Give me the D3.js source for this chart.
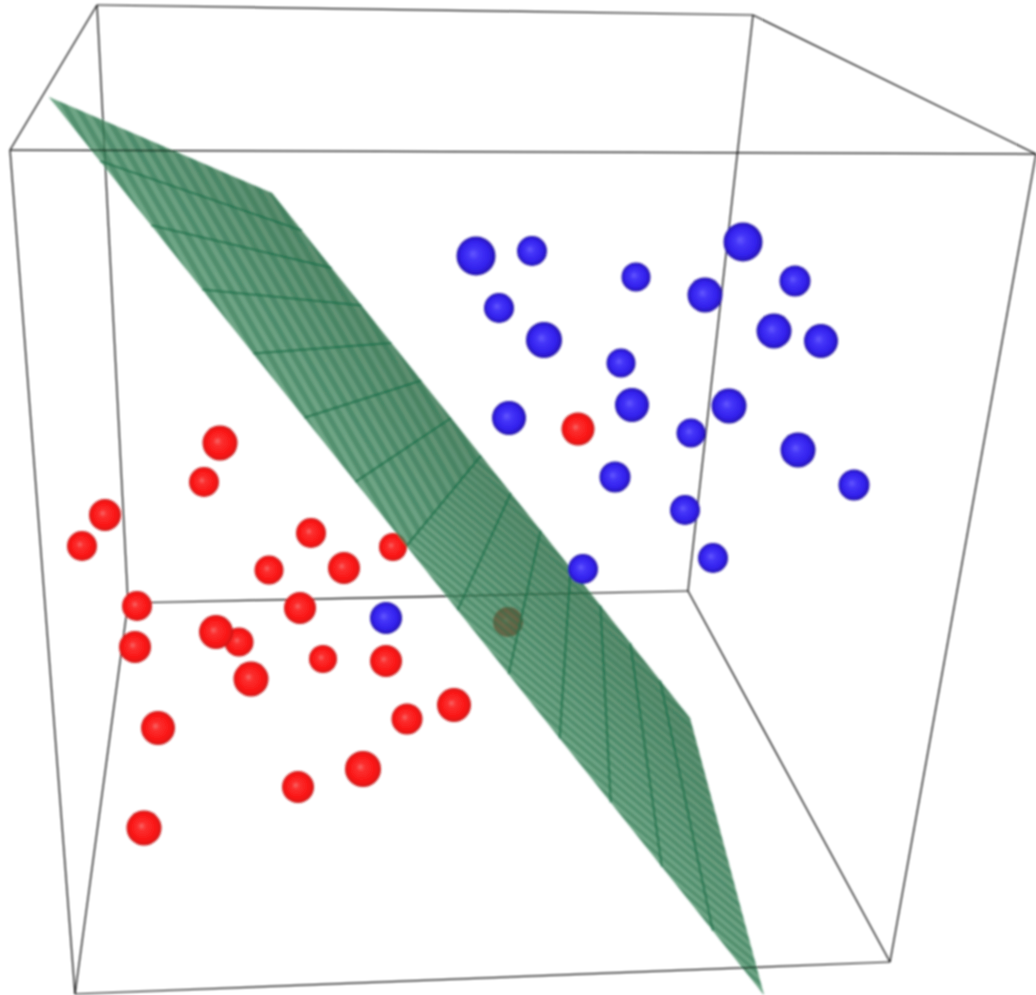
<!DOCTYPE html>
<html>
<head>
<meta charset="utf-8">
<script src="https://cdn.jsdelivr.net/npm/d3@7"></script>
<style>
  html, body { margin: 0; padding: 0; background: #fff; }
  svg { display: block; }
</style>
</head>
<body>
<div class="chart"></div>
<script>
// values, in picture units
var blueX = [476, 532, 636, 743, 795, 705, 499, 544, 774, 821, 621, 632, 729, 509, 691, 798, 615, 854, 685, 713, 583, 386];
var blueY = [256, 251, 277, 242, 281, 295, 308, 340, 331, 341, 363, 405, 406, 418, 433, 450, 477, 485, 510, 558, 569, 618];
var blueR = [19.5, 15, 14.5, 19.5, 15.5, 17.5, 15, 18, 17.5, 17, 14.5, 17, 17.5, 17, 14.5, 17.5, 15.5, 15.5, 15, 15, 15, 16];

var redX = [220, 204, 105, 82, 311, 344, 269, 137, 300, 135, 239, 216, 323, 386, 251, 158, 407, 454, 363, 298, 144, 578];
var redY = [443, 482, 515, 546, 533, 568, 570, 606, 608, 647, 642, 632, 659, 661, 679, 728, 719, 705, 769, 787, 828, 429];
var redR = [17.5, 15, 16, 15, 15, 16, 14.5, 15, 16, 16, 14.5, 17, 14, 16, 17.5, 17, 15.5, 17, 18, 16, 17.5, 16.5];

// the two red points sitting behind the plane
var hiddenX = [393, 508];
var hiddenY = [547, 622];
var hiddenR = [14, 15];

// box corners: back top, front top, back bottom, front bottom
var cornerNames = ["btl", "btr", "ftl", "ftr", "bbl", "bbr", "fbl", "fbr"];
var cornerX = [97, 753, 10, 1036, 128, 688, 75, 890];
var cornerY = [5, 15, 150, 154, 603, 591, 994, 962];
var backEdges = [["btl", "btr"], ["btl", "ftl"], ["btr", "ftr"], ["btl", "bbl"], ["btr", "bbr"],
  ["bbl", "bbr"], ["bbl", "fbl"], ["bbr", "fbr"], ["ftl", "fbl"], ["ftr", "fbr"]];
var frontEdges = [["ftl", "ftr"], ["fbl", "fbr"]];

// plane corners, long lower edge first then the upper edge
var planeX = [49, 764, 690, 272];
var planeY = [97, 995, 718, 193];
var meshCount = 14;

// fine stripes on the plane: mesh row where they start and stop, slope, spacing
var stripeFrom = [0, 7];
var stripeTo = [7, 14];
var stripeAngle = [60, 40];
var stripeGap = [10.5, 6.6];

var width = 1036,
  height = 995;

var x = d3.scaleLinear().domain([0, 1036]).range([0, width]);
var y = d3.scaleLinear().domain([0, 995]).range([0, height]);
var r = d3.scaleLinear().domain([0, 1036]).range([0, width]);

var svg = d3.select(".chart").append("svg")
  .attr("width", width)
  .attr("height", height);

var defs = svg.append("defs");

defs.append("filter")
  .attr("id", "soft")
  .attr("filterUnits", "userSpaceOnUse")
  .attr("x", -10).attr("y", -10)
  .attr("width", width + 20).attr("height", height + 20)
  .append("feGaussianBlur")
  .attr("stdDeviation", 1);

function ballGradient(id, stops) {
  var g = defs.append("radialGradient")
    .attr("id", id)
    .attr("cx", "50%").attr("cy", "50%").attr("r", "50%")
    .attr("fx", "42%").attr("fy", "44%");
  stops.forEach(function (s) {
    g.append("stop").attr("offset", s[0]).attr("stop-color", s[1]);
  });
}
ballGradient("redBall", [["0%", "#f86a6a"], ["22%", "#fb3030"], ["70%", "#fb1616"], ["90%", "#e81414"], ["100%", "#b81818"]]);
ballGradient("blueBall", [["0%", "#6458ff"], ["30%", "#4434f8"], ["70%", "#3322ee"], ["90%", "#2a18cc"], ["100%", "#1f1290"]]);

// shade runs straight across the band, lower edge to upper edge
var bandX = planeX[1] - planeX[0],
  bandY = planeY[1] - planeY[0],
  bandLen = Math.sqrt(bandX * bandX + bandY * bandY),
  normX = bandY / bandLen,
  normY = -bandX / bandLen,
  bandWidth = (planeX[3] - planeX[0]) * normX + (planeY[3] - planeY[0]) * normY;

var planeShade = defs.append("linearGradient")
  .attr("id", "planeShade")
  .attr("gradientUnits", "userSpaceOnUse")
  .attr("x1", x(planeX[0])).attr("y1", y(planeY[0]))
  .attr("x2", x(planeX[0] + normX * bandWidth)).attr("y2", y(planeY[0] + normY * bandWidth));
planeShade.append("stop").attr("offset", "0%").attr("stop-color", "#418a60");
planeShade.append("stop").attr("offset", "100%").attr("stop-color", "#24683f");

var root = svg.append("g").attr("filter", "url(#soft)");

function corner(name) {
  var i = cornerNames.indexOf(name);
  return [x(cornerX[i]), y(cornerY[i])];
}

function drawEdges(edges) {
  root.append("g").selectAll("line")
    .data(edges)
    .enter().append("line")
    .attr("x1", function (d) { return corner(d[0])[0]; })
    .attr("y1", function (d) { return corner(d[0])[1]; })
    .attr("x2", function (d) { return corner(d[1])[0]; })
    .attr("y2", function (d) { return corner(d[1])[1]; })
    .attr("stroke", "#000")
    .attr("stroke-width", 1.25);
}

function drawBalls(xs, ys, rs, fill) {
  root.append("g").selectAll("circle")
    .data(xs)
    .enter().append("circle")
    .attr("cx", function (d) { return x(d); })
    .attr("cy", function (d, i) { return y(ys[i]); })
    .attr("r", function (d, i) { return r(rs[i]); })
    .attr("fill", fill);
}

// position on the plane: t runs along the long edge, s across it
function planePoint(t, s) {
  var lx = planeX[0] + (planeX[1] - planeX[0]) * t,
    ly = planeY[0] + (planeY[1] - planeY[0]) * t,
    ux = planeX[3] + (planeX[2] - planeX[3]) * t,
    uy = planeY[3] + (planeY[2] - planeY[3]) * t;
  return [x(lx + (ux - lx) * s), y(ly + (uy - ly) * s)];
}

function drawPlane() {
  var plane = root.append("g");
  var outline = d3.range(4).map(function (i) { return [x(planeX[i]), y(planeY[i])]; });

  plane.append("polygon")
    .attr("points", outline.join(" "))
    .attr("fill", "url(#planeShade)")
    .attr("fill-opacity", 0.75);

  stripeAngle.forEach(function (angle, n) {
    var a = planePoint(stripeFrom[n] / meshCount, 0),
      b = planePoint(stripeTo[n] / meshCount, 0),
      c = planePoint(stripeTo[n] / meshCount, 1),
      d = planePoint(stripeFrom[n] / meshCount, 1);

    defs.append("clipPath")
      .attr("id", "stripeClip" + n)
      .append("polygon")
      .attr("points", [a, b, c, d].join(" "));

    var rad = angle * Math.PI / 180,
      dx = Math.cos(rad),
      dy = Math.sin(rad),
      offsets = d3.range(-1500, 1500, stripeGap[n]);

    plane.append("g")
      .attr("clip-path", "url(#stripeClip" + n + ")")
      .selectAll("line")
      .data(offsets)
      .enter().append("line")
      .attr("x1", function (o) { return 500 - dy * o - dx * 1500; })
      .attr("y1", function (o) { return 500 + dx * o - dy * 1500; })
      .attr("x2", function (o) { return 500 - dy * o + dx * 1500; })
      .attr("y2", function (o) { return 500 + dx * o + dy * 1500; })
      .attr("stroke", "#1f6a45")
      .attr("stroke-opacity", 0.36)
      .attr("stroke-width", stripeGap[n] * 0.5);
  });

  plane.append("g").selectAll("line")
    .data(d3.range(1, meshCount))
    .enter().append("line")
    .attr("x1", function (k) { return planePoint(k / meshCount, 0)[0]; })
    .attr("y1", function (k) { return planePoint(k / meshCount, 0)[1]; })
    .attr("x2", function (k) { return planePoint(k / meshCount, 1)[0]; })
    .attr("y2", function (k) { return planePoint(k / meshCount, 1)[1]; })
    .attr("stroke", "#1d6e48")
    .attr("stroke-opacity", 0.8)
    .attr("stroke-width", 2);
}

drawEdges(backEdges);
drawBalls(hiddenX, hiddenY, hiddenR, "url(#redBall)");
drawPlane();
drawEdges(frontEdges);
drawBalls(blueX, blueY, blueR, "url(#blueBall)");
drawBalls(redX, redY, redR, "url(#redBall)");
</script>
</body>
</html>
